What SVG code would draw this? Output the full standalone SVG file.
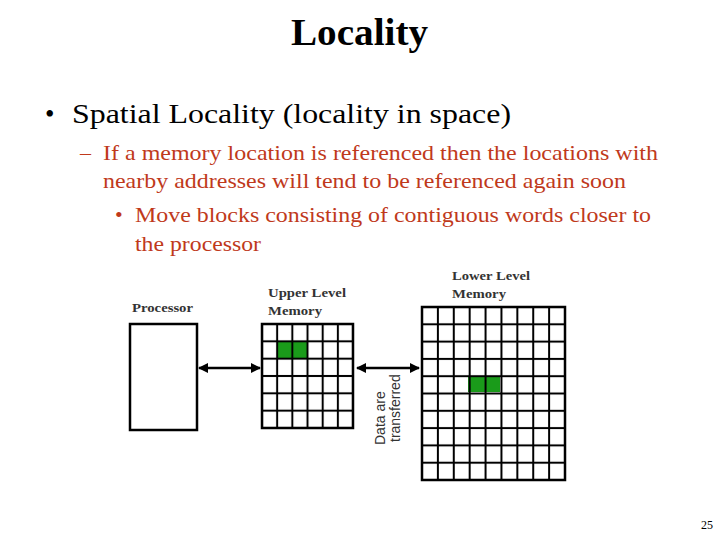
<svg xmlns="http://www.w3.org/2000/svg" width="720" height="540" viewBox="0 0 720 540">
<defs>
<marker id="ah" viewBox="0 0 10 10" refX="9" refY="5" markerWidth="4" markerHeight="4" orient="auto-start-reverse"><path d="M0,0 L10,5 L0,10 z" fill="#000"/></marker>
<pattern id="gu" x="262" y="324" width="15.17" height="17.33" patternUnits="userSpaceOnUse"><rect width="15.17" height="17.33" fill="none" stroke="#000" stroke-width="2"/></pattern>
<pattern id="gl" x="422" y="307" width="15.89" height="17.3" patternUnits="userSpaceOnUse"><rect width="15.89" height="17.3" fill="none" stroke="#000" stroke-width="2"/></pattern>
</defs>
<style>
.t{font-family:"Liberation Serif",serif}
.r{fill:#c0391b;font-size:22px}
.lb{font-family:"Liberation Serif",serif;font-weight:bold;font-size:13px;fill:#333}
</style>
<rect width="720" height="540" fill="#fff"/>
<text class="t" x="291" y="45" textLength="137" lengthAdjust="spacingAndGlyphs" font-size="38" font-weight="bold">Locality</text>
<text class="t" x="45" y="123" font-size="27">•</text>
<text class="t" x="72" y="123" font-size="27" textLength="439" lengthAdjust="spacingAndGlyphs">Spatial Locality (locality in space)</text>
<text class="t r" x="80" y="160">–</text>
<text class="t r" x="103" y="160" textLength="555" lengthAdjust="spacingAndGlyphs">If a memory location is referenced then the locations with</text>
<text class="t r" x="103" y="188" textLength="523" lengthAdjust="spacingAndGlyphs">nearby addresses will tend to be referenced again soon</text>
<text class="t r" x="115" y="222">•</text>
<text class="t r" x="135" y="222" textLength="516" lengthAdjust="spacingAndGlyphs">Move blocks consisting of contiguous words closer to</text>
<text class="t r" x="135" y="251" textLength="126" lengthAdjust="spacingAndGlyphs">the processor</text>
<g id="processor"><text class="lb" x="132" y="312" textLength="61" lengthAdjust="spacingAndGlyphs">Processor</text><rect x="130" y="324" width="67" height="106" fill="#fff" stroke="#000" stroke-width="2.5"/></g>
<g id="upper"><text class="lb" x="268" y="297" textLength="78" lengthAdjust="spacingAndGlyphs">Upper Level</text><text class="lb" x="268" y="315" textLength="54" lengthAdjust="spacingAndGlyphs">Memory</text>
<rect x="277" y="341" width="31" height="17" fill="#1a9b1a"/>
<rect x="262" y="324" width="91" height="104" fill="url(#gu)" stroke="#000" stroke-width="2.5"/></g>
<g id="lower"><text class="lb" x="452" y="280" textLength="78" lengthAdjust="spacingAndGlyphs">Lower Level</text><text class="lb" x="452" y="298" textLength="54" lengthAdjust="spacingAndGlyphs">Memory</text>
<rect x="468" y="376" width="32" height="16" fill="#1a9b1a"/>
<rect x="422" y="307" width="143" height="173" fill="url(#gl)" stroke="#000" stroke-width="2.5"/></g>
<g id="connectors" stroke="#000" stroke-width="2.5">
<line x1="199" y1="368" x2="260" y2="368" marker-start="url(#ah)" marker-end="url(#ah)"/>
<line x1="357" y1="368" x2="419" y2="368" marker-start="url(#ah)" marker-end="url(#ah)"/>
</g>
<text transform="translate(385,445) rotate(-90)" font-family="Liberation Sans,sans-serif" font-size="14" fill="#333">Data are</text>
<text transform="translate(400,442) rotate(-90)" font-family="Liberation Sans,sans-serif" font-size="14" fill="#333">transferred</text>
<text class="t" x="713" y="529" text-anchor="end" font-size="12">25</text>
</svg>
